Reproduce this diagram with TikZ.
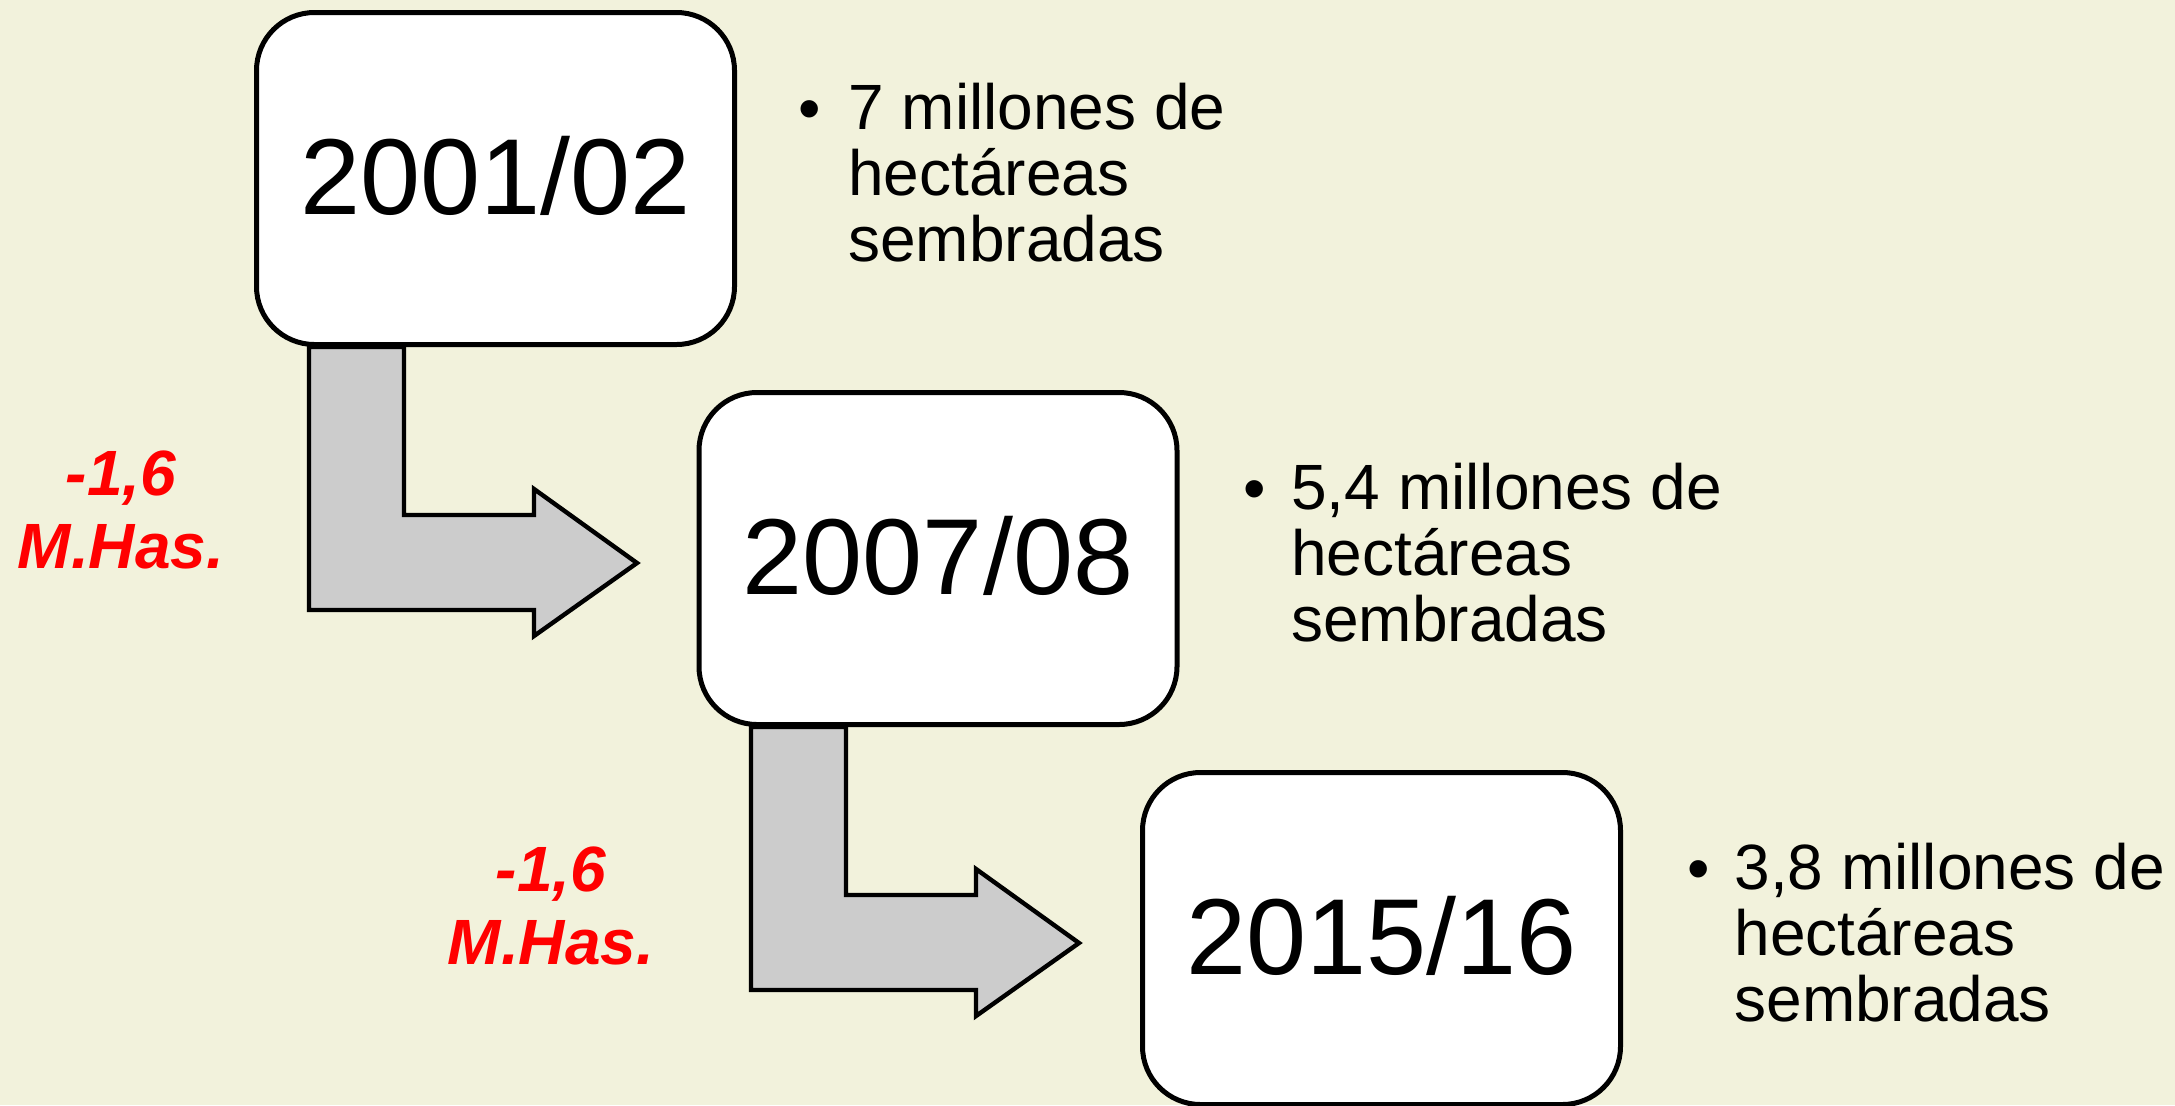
\documentclass[tikz,border=0pt]{standalone}
\usepackage{fontspec}
\setmainfont{Liberation Sans}
\definecolor{bgcream}{RGB}{242,242,220}
\definecolor{arrowgray}{RGB}{204,204,204}
\begin{document}
\begin{tikzpicture}[x=0.5pt,y=-0.5pt,
  yearbox/.style={draw=black, line width=2.5pt, fill=white, rounded corners=29pt,
    minimum width=239pt, minimum height=166pt, inner sep=0pt, outer sep=0pt,
    text height=39pt, text depth=3pt,
    font=\fontsize{54}{60}\selectfont},
  bendarrow/.style={draw=black, line width=2.2pt, fill=arrowgray, line join=miter},
  info/.style={anchor=north west, align=left, inner sep=0pt,
    font=\fontsize{32}{33}\selectfont},
  dotmark/.style={anchor=base, inner sep=0pt, font=\fontsize{32}{33}\selectfont},
  drop/.style={align=center, inner sep=0pt, text=red,
    font=\fontsize{32}{36.5}\selectfont\bfseries\itshape}]
\fill[bgcream] (0,0) rectangle (2175,1105);
\useasboundingbox (0,0) rectangle (2175,1105);

% bent arrows
\draw[bendarrow] (309,347) -- (404,347) -- (404,515) -- (534,515) -- (534,489)
  -- (637,563) -- (534,636) -- (534,610) -- (309,610) -- cycle;
\draw[bendarrow] (751,727) -- (846,727) -- (846,895) -- (976,895) -- (976,869)
  -- (1079,943) -- (976,1016) -- (976,990) -- (751,990) -- cycle;

% year boxes
\node[yearbox] (b1) at (495.5,178.5) {2001/02};
\node[yearbox] (b2) at (938,558.5) {2007/08};
\node[yearbox] (b3) at (1381.5,938.5) {2015/16};

% bullet texts
\node[dotmark] (d1) at (810,130) {•};
\node[info] (t1) at (848,83) {7 millones de\\hectáreas\\sembradas};
\node[dotmark] (d2) at (1255,510) {•};
\node[info] (t2) at (1291,463) {5,4 millones de\\hectáreas\\sembradas};
\node[dotmark] (d3) at (1699,890) {•};
\node[info] (t3) at (1734,843) {3,8 millones de\\hectáreas\\sembradas};

% red labels
\node[drop] (r1) at (121,510) {-1,6\\M.Has.};
\node[drop] (r2) at (551,906) {-1,6\\M.Has.};
\end{tikzpicture}
\end{document}
